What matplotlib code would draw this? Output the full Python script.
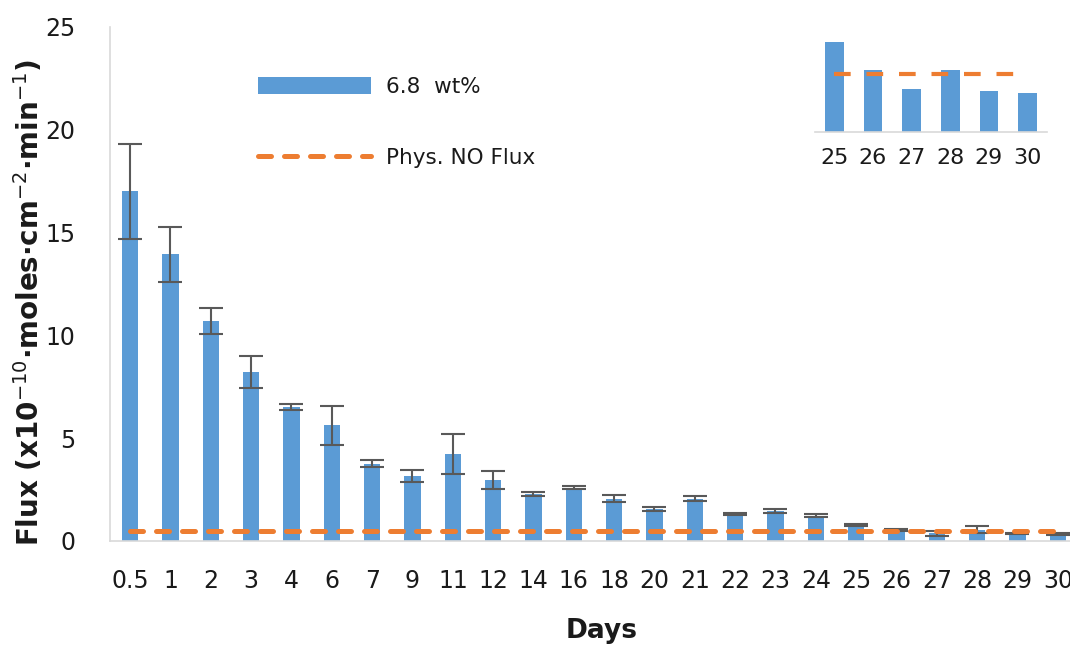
import matplotlib
matplotlib.use("Agg")
import matplotlib.pyplot as plt
import numpy as np

plt.rcParams['font.family'] = ['DejaVu Sans']
plt.rcParams['mathtext.fontset'] = 'dejavusans'

# Release data
days = ["0.5", "1", "2", "3", "4", "6", "7", "9", "11", "12", "14", "16",
        "18", "20", "21", "22", "23", "24", "25", "26", "27", "28", "29", "30"]
flux = [17.0, 13.95, 10.7, 8.22, 6.52, 5.62, 3.75, 3.15, 4.23, 2.96, 2.3, 2.6,
        2.05, 1.55, 2.05, 1.32, 1.47, 1.22, 0.78, 0.54, 0.37, 0.54, 0.355, 0.34]
flux_err = [2.3, 1.33, 0.65, 0.79, 0.16, 0.95, 0.17, 0.3, 0.97, 0.43, 0.1, 0.07,
            0.17, 0.1, 0.12, 0.05, 0.1, 0.07, 0.04, 0.04, 0.11, 0.17, 0.03, 0.05]
phys_no_flux = 0.5

# Late-period detail (days 25-30)
zoom_days = days[-6:]
zoom_flux = flux[-6:]

BLUE = "#5B9BD5"
ORANGE = "#ED7D31"
GRAY_AXIS = "#D9D9D9"
ERR = "#595959"
TXT = "#1a1a1a"

W, H = 1070, 648
fig = plt.figure(figsize=(W / 100, H / 100), dpi=100)

# main axes (extends slightly past the right edge)
left_px, right_px, bottom_px, top_px = 110, 1078, 541, 27
ax = fig.add_axes([left_px / W, 1 - bottom_px / H,
                   (right_px - left_px) / W, (bottom_px - top_px) / H])

x = np.arange(len(days))
bars = ax.bar(x, flux, width=0.4, color=BLUE, zorder=2)
ax.errorbar(x, flux, yerr=flux_err, fmt="none", ecolor=ERR, elinewidth=1.5,
            capsize=8.5, capthick=1.5, zorder=3)
line, = ax.plot(x, [phys_no_flux] * len(x), color=ORANGE, lw=3.6,
                dashes=(2.6, 2.6), dash_capstyle="round", zorder=4)

ax.set_xlim(-0.5, len(days) - 0.5)
ax.set_ylim(0, 25)
ax.set_yticks([0, 5, 10, 15, 20, 25])
ax.set_xticks(x)
ax.set_xticklabels(days)
ax.tick_params(axis="both", length=0, labelsize=17, colors=TXT)
ax.tick_params(axis="y", pad=25)
ax.tick_params(axis="x", pad=20)
for s in ("top", "right"):
    ax.spines[s].set_visible(False)
for s in ("left", "bottom"):
    ax.spines[s].set_color(GRAY_AXIS)
    ax.spines[s].set_linewidth(1.2)

fig.text(0.027, 0.533,
         r"Flux (x10$^{\mathrm{-10}}$·moles·cm$^{\mathrm{-2}}$·min$^{\mathrm{-1}}$)",
         rotation=90, ha="center", va="center", fontsize=20,
         fontweight="bold", color=TXT)
fig.text(0.562, 1 - 631 / H, "Days", ha="center", va="center",
         fontsize=19, fontweight="bold", color=TXT)

leg = ax.legend([bars, line], ["6.8  wt%", "Phys. NO Flux"],
                loc="upper left", bbox_to_anchor=(258 / W, 1 - 77 / H),
                bbox_transform=fig.transFigure, frameon=False, fontsize=15.5,
                handlelength=5.25, handleheight=0.8, handletextpad=0.7,
                labelspacing=2.37, borderpad=0, borderaxespad=0)
for t in leg.get_texts():
    t.set_color(TXT)

# inset with the last six days
ins_l, ins_r, ins_b, ins_t = 815, 1047, 132.3, 28
ax2 = fig.add_axes([ins_l / W, 1 - ins_b / H,
                    (ins_r - ins_l) / W, (ins_b - ins_t) / H])
xi = np.arange(len(zoom_days))
ax2.bar(xi, zoom_flux, width=0.49, color=BLUE, zorder=2)
ax2.plot(xi, [phys_no_flux] * len(xi), color=ORANGE, lw=3.0,
         dashes=(4, 3.8), zorder=3)
ax2.set_xlim(-0.5, len(zoom_days) - 0.5)
ax2.set_ylim(0, 0.9)
ax2.set_yticks([])
ax2.set_xticks(xi)
ax2.set_xticklabels(zoom_days)
ax2.tick_params(axis="x", length=0, labelsize=16, pad=11, colors=TXT)
for s in ("top", "right", "left"):
    ax2.spines[s].set_visible(False)
ax2.spines["bottom"].set_color(GRAY_AXIS)
ax2.spines["bottom"].set_linewidth(1.2)
ax2.patch.set_alpha(0)

fig.savefig("out.png", dpi=100)
